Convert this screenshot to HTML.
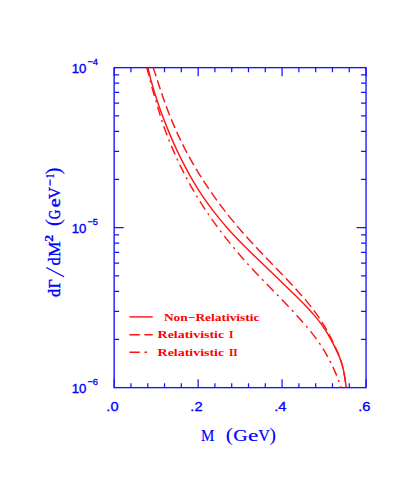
<!DOCTYPE html>
<html><head><meta charset="utf-8"><title>plot</title>
<style>
html,body{margin:0;padding:0;background:#fff;}
body{width:409px;height:477px;position:relative;overflow:hidden;font-family:"Liberation Sans",sans-serif;}
svg text{white-space:pre;}
</style></head><body>
<svg width="409" height="477" viewBox="0 0 409 477" style="position:absolute;left:0;top:0">
<rect x="0" y="0" width="409" height="477" fill="#ffffff"/>
<rect x="114.15" y="67.65" width="251.9" height="320.0" fill="none" stroke="#1414ff" stroke-width="1.35"/>
<path d="M114.15 387.65v-8.5 M114.15 67.65v8.5 M130.94 387.65v-4.5 M130.94 67.65v4.5 M147.74 387.65v-4.5 M147.74 67.65v4.5 M164.53 387.65v-4.5 M164.53 67.65v4.5 M181.32 387.65v-4.5 M181.32 67.65v4.5 M198.12 387.65v-8.5 M198.12 67.65v8.5 M214.91 387.65v-4.5 M214.91 67.65v4.5 M231.70 387.65v-4.5 M231.70 67.65v4.5 M248.50 387.65v-4.5 M248.50 67.65v4.5 M265.29 387.65v-4.5 M265.29 67.65v4.5 M282.08 387.65v-8.5 M282.08 67.65v8.5 M298.88 387.65v-4.5 M298.88 67.65v4.5 M315.67 387.65v-4.5 M315.67 67.65v4.5 M332.46 387.65v-4.5 M332.46 67.65v4.5 M349.26 387.65v-4.5 M349.26 67.65v4.5 M366.05 387.65v-8.5 M366.05 67.65v8.5 M114.15 339.49h5 M366.05 339.49h-5 M114.15 311.31h5 M366.05 311.31h-5 M114.15 291.32h5 M366.05 291.32h-5 M114.15 275.81h5 M366.05 275.81h-5 M114.15 263.15h5 M366.05 263.15h-5 M114.15 252.43h5 M366.05 252.43h-5 M114.15 243.16h5 M366.05 243.16h-5 M114.15 234.97h5 M366.05 234.97h-5 M114.15 227.65h9.5 M366.05 227.65h-9.5 M114.15 179.49h5 M366.05 179.49h-5 M114.15 151.31h5 M366.05 151.31h-5 M114.15 131.32h5 M366.05 131.32h-5 M114.15 115.81h5 M366.05 115.81h-5 M114.15 103.15h5 M366.05 103.15h-5 M114.15 92.43h5 M366.05 92.43h-5 M114.15 83.16h5 M366.05 83.16h-5 M114.15 74.97h5 M366.05 74.97h-5" stroke="#1414ff" stroke-width="1.25" fill="none"/>
<g fill="none" stroke="#ff1414" stroke-width="1.45" stroke-linecap="butt" stroke-linejoin="round">
<path d="M147.93 67.65 L148.15 68.65 L148.38 69.65 L148.60 70.65 L148.83 71.65 L149.07 72.65 L149.31 73.65 L149.56 74.65 L149.80 75.65 L150.06 76.65 L150.31 77.65 L150.57 78.65 L150.84 79.65 L151.10 80.65 L151.38 81.65 L151.65 82.65 L151.93 83.65 L152.21 84.65 L152.50 85.65 L152.79 86.65 L153.08 87.65 L153.38 88.65 L153.68 89.65 L153.98 90.65 L154.29 91.65 L154.59 92.65 L154.91 93.65 L155.22 94.65 L155.54 95.65 L155.86 96.65 L156.19 97.65 L156.52 98.65 L156.85 99.65 L157.18 100.65 L157.51 101.65 L157.85 102.65 L158.19 103.65 L158.54 104.65 L158.89 105.65 L159.23 106.65 L159.59 107.65 L159.94 108.65 L160.30 109.65 L160.65 110.65 L161.02 111.65 L161.38 112.65 L161.74 113.65 L162.11 114.65 L162.48 115.65 L162.86 116.65 L163.23 117.65 L163.61 118.65 L163.99 119.65 L164.37 120.65 L164.76 121.65 L165.14 122.65 L165.54 123.65 L165.93 124.65 L166.32 125.65 L166.72 126.65 L167.12 127.65 L167.53 128.65 L167.93 129.65 L168.34 130.65 L168.75 131.65 L169.17 132.65 L169.59 133.65 L170.01 134.65 L170.43 135.65 L170.86 136.65 L171.28 137.65 L171.72 138.65 L172.15 139.65 L172.59 140.65 L173.03 141.65 L173.47 142.65 L173.92 143.65 L174.37 144.65 L174.82 145.65 L175.28 146.65 L175.74 147.65 L176.20 148.65 L176.66 149.65 L177.13 150.65 L177.60 151.65 L178.08 152.65 L178.55 153.65 L179.04 154.65 L179.52 155.65 L180.01 156.65 L180.50 157.65 L181.00 158.65 L181.50 159.65 L182.00 160.65 L182.51 161.65 L183.02 162.65 L183.53 163.65 L184.05 164.65 L184.58 165.65 L185.11 166.65 L185.64 167.65 L186.18 168.65 L186.72 169.65 L187.25 170.65 L187.79 171.65 L188.33 172.65 L188.88 173.65 L189.43 174.65 L189.99 175.65 L190.55 176.65 L191.12 177.65 L191.69 178.65 L192.26 179.65 L192.85 180.65 L193.43 181.65 L194.03 182.65 L194.63 183.65 L195.23 184.65 L195.84 185.65 L196.46 186.65 L197.08 187.65 L197.70 188.65 L198.34 189.65 L198.98 190.65 L199.62 191.65 L200.27 192.65 L200.93 193.65 L201.59 194.65 L202.26 195.65 L202.94 196.65 L203.62 197.65 L204.31 198.65 L205.00 199.65 L205.70 200.65 L206.40 201.65 L207.12 202.65 L207.83 203.65 L208.56 204.65 L209.29 205.65 L210.02 206.65 L210.77 207.65 L211.52 208.65 L212.27 209.65 L213.04 210.65 L213.81 211.65 L214.58 212.65 L215.36 213.65 L216.15 214.65 L216.95 215.65 L217.75 216.65 L218.56 217.65 L219.38 218.65 L220.20 219.65 L221.03 220.65 L221.86 221.65 L222.71 222.65 L223.56 223.65 L224.41 224.65 L225.28 225.65 L226.15 226.65 L227.02 227.65 L227.91 228.65 L228.80 229.65 L229.71 230.65 L230.63 231.65 L231.55 232.65 L232.49 233.65 L233.43 234.65 L234.37 235.65 L235.32 236.65 L236.28 237.65 L237.24 238.65 L238.21 239.65 L239.18 240.65 L240.16 241.65 L241.14 242.65 L242.13 243.65 L243.12 244.65 L244.12 245.65 L245.11 246.65 L246.12 247.65 L247.12 248.65 L248.13 249.65 L249.14 250.65 L250.16 251.65 L251.18 252.65 L252.20 253.65 L253.22 254.65 L254.25 255.65 L255.29 256.65 L256.32 257.65 L257.36 258.65 L258.41 259.65 L259.45 260.65 L260.49 261.65 L261.54 262.65 L262.58 263.65 L263.62 264.65 L264.67 265.65 L265.71 266.65 L266.75 267.65 L267.80 268.65 L268.84 269.65 L269.88 270.65 L270.92 271.65 L271.96 272.65 L272.99 273.65 L274.03 274.65 L275.06 275.65 L276.09 276.65 L277.13 277.65 L278.15 278.65 L279.18 279.65 L280.21 280.65 L281.23 281.65 L282.26 282.65 L283.28 283.65 L284.29 284.65 L285.33 285.65 L286.37 286.65 L287.42 287.65 L288.46 288.65 L289.50 289.65 L290.53 290.65 L291.56 291.65 L292.60 292.65 L293.62 293.65 L294.65 294.65 L295.67 295.65 L296.70 296.65 L297.71 297.65 L298.71 298.65 L299.72 299.65 L300.71 300.65 L301.71 301.65 L302.70 302.65 L303.69 303.65 L304.68 304.65 L305.63 305.65 L306.56 306.65 L307.48 307.65 L308.40 308.65 L309.31 309.65 L310.21 310.65 L311.10 311.65 L311.99 312.65 L312.86 313.65 L313.72 314.65 L314.57 315.65 L315.42 316.65 L316.24 317.65 L317.06 318.65 L317.86 319.65 L318.65 320.65 L319.42 321.65 L320.18 322.65 L320.93 323.65 L321.66 324.65 L322.37 325.65 L323.06 326.65 L323.74 327.65 L324.41 328.65 L325.06 329.65 L325.70 330.65 L326.33 331.65 L326.95 332.65 L327.56 333.65 L328.15 334.65 L328.74 335.65 L329.31 336.65 L329.88 337.65 L330.44 338.65 L330.98 339.65 L331.52 340.65 L332.05 341.65 L332.58 342.65 L333.10 343.65 L333.61 344.65 L334.12 345.65 L334.63 346.65 L335.12 347.65 L335.62 348.65 L336.10 349.65 L336.58 350.65 L337.05 351.65 L337.51 352.65 L337.96 353.65 L338.40 354.65 L338.82 355.65 L339.24 356.65 L339.65 357.65 L340.04 358.65 L340.42 359.65 L340.78 360.65 L341.13 361.65 L341.47 362.65 L341.79 363.65 L342.09 364.65 L342.37 365.65 L342.64 366.65 L342.89 367.65 L343.13 368.65 L343.36 369.65 L343.57 370.65 L343.77 371.65 L343.96 372.65 L344.14 373.65 L344.32 374.65 L344.48 375.65 L344.64 376.65 L344.80 377.65 L344.95 378.65 L345.10 379.65 L345.25 380.65 L345.40 381.65 L345.55 382.65 L345.71 383.65 L345.86 384.65 L346.02 385.65 L346.19 386.65 L346.36 387.65"/>
<path d="M153.25 67.65 L153.58 68.65 L153.90 69.65 L154.23 70.65 L154.56 71.65 L154.88 72.65 L155.21 73.65 L155.53 74.65 L155.86 75.65 L156.06 76.27 M157.38 80.31 L157.49 80.65 L157.81 81.65 L158.14 82.65 L158.47 83.65 L158.80 84.65 L159.13 85.65 L159.46 86.65 L159.79 87.65 L160.12 88.65 L160.35 89.33 M161.70 93.36 L161.80 93.65 L162.14 94.65 L162.48 95.65 L162.83 96.65 L163.17 97.65 L163.52 98.65 L163.87 99.65 L164.22 100.65 L164.58 101.65 L164.82 102.34 M166.27 106.34 L166.38 106.65 L166.75 107.65 L167.13 108.65 L167.50 109.65 L167.88 110.65 L168.26 111.65 L168.65 112.65 L169.03 113.65 L169.42 114.65 L169.66 115.24 M171.24 119.21 L171.42 119.65 L171.83 120.65 L172.25 121.65 L172.67 122.65 L173.09 123.65 L173.51 124.65 L173.94 125.65 L174.37 126.65 L174.80 127.65 L174.95 128.00 M176.69 131.91 L177.02 132.65 L177.48 133.65 L177.94 134.65 L178.40 135.65 L178.87 136.65 L179.34 137.65 L179.81 138.65 L180.29 139.65 L180.74 140.59 M182.63 144.44 L182.74 144.65 L183.24 145.65 L183.75 146.65 L184.26 147.65 L184.77 148.65 L185.29 149.65 L185.81 150.65 L186.33 151.65 L186.86 152.65 L187.04 152.97 M189.09 156.76 L189.58 157.65 L190.13 158.65 L190.69 159.65 L191.25 160.65 L191.82 161.65 L192.39 162.65 L192.96 163.65 L193.54 164.65 L193.83 165.15 M196.03 168.87 L196.50 169.65 L197.10 170.65 L197.71 171.65 L198.32 172.65 L198.94 173.65 L199.56 174.65 L200.18 175.65 L200.81 176.65 L201.10 177.10 M203.43 180.75 L204.01 181.65 L204.67 182.65 L205.32 183.65 L205.98 184.65 L206.65 185.65 L207.32 186.65 L207.99 187.65 L208.67 188.65 L208.79 188.83 M211.26 192.42 L211.42 192.65 L212.11 193.65 L212.82 194.65 L213.52 195.65 L214.23 196.65 L214.94 197.65 L215.66 198.65 L216.39 199.65 L216.89 200.35 M219.48 203.86 L220.06 204.65 L220.81 205.65 L221.57 206.65 L222.33 207.65 L223.09 208.65 L223.86 209.65 L224.63 210.65 L225.39 211.63 M228.10 215.07 L228.56 215.65 L229.36 216.65 L230.16 217.65 L230.97 218.65 L231.79 219.65 L232.61 220.65 L233.43 221.65 L234.26 222.65 L234.28 222.66 M237.10 226.03 L237.64 226.65 L238.49 227.65 L239.35 228.65 L240.22 229.65 L241.09 230.65 L241.96 231.65 L242.85 232.65 L243.55 233.44 M246.49 236.73 L247.32 237.65 L248.23 238.65 L249.14 239.65 L250.06 240.65 L250.98 241.65 L251.90 242.65 L252.83 243.65 L253.14 243.99 M256.16 247.22 L256.56 247.65 L257.50 248.65 L258.45 249.65 L259.40 250.65 L260.34 251.65 L261.29 252.65 L262.25 253.65 L262.95 254.39 M266.01 257.58 L266.07 257.65 L267.03 258.65 L268.00 259.65 L268.96 260.65 L269.92 261.65 L270.89 262.65 L271.85 263.65 L272.81 264.65 L272.86 264.70 M275.93 267.88 L276.67 268.65 L277.64 269.65 L278.60 270.65 L279.56 271.65 L280.53 272.65 L281.49 273.65 L282.45 274.65 L282.78 275.00 M285.84 278.20 L286.27 278.65 L287.21 279.65 L288.16 280.65 L289.10 281.65 L290.04 282.65 L290.98 283.65 L291.91 284.65 L292.60 285.39 M295.58 288.64 L295.59 288.65 L296.50 289.65 L297.40 290.65 L298.30 291.65 L299.19 292.65 L300.08 293.65 L300.96 294.65 L301.83 295.65 L302.13 295.99 M304.98 299.33 L305.26 299.65 L306.09 300.65 L306.92 301.65 L307.74 302.65 L308.56 303.65 L309.36 304.65 L310.16 305.65 L310.95 306.65 L311.16 306.92 M313.82 310.39 L314.01 310.65 L314.76 311.65 L315.49 312.65 L316.22 313.65 L316.94 314.65 L317.64 315.65 L318.34 316.65 L319.03 317.65 L319.48 318.31 M321.87 321.93 L322.32 322.65 L322.95 323.65 L323.57 324.65 L324.18 325.65 L324.77 326.65 L325.36 327.65 L325.94 328.65 L326.51 329.65 L326.82 330.22 M328.88 334.01 L329.22 334.65 L329.74 335.65 L330.25 336.65 L330.76 337.65 L331.26 338.65 L331.75 339.65 L332.24 340.65 L332.72 341.65 L333.17 342.59 M334.99 346.47 L335.07 346.65 L335.53 347.65 L335.98 348.65 L336.42 349.65 L336.86 350.65 L337.30 351.65 L337.72 352.65 L338.14 353.65 L338.55 354.65 L338.78 355.23 M340.29 359.22 L340.45 359.65 L340.79 360.65 L341.13 361.65 L341.45 362.65 L341.76 363.65 L342.05 364.65 L342.33 365.65 L342.60 366.65 L342.85 367.65 L343.00 368.30 M343.89 372.43 L343.94 372.65 L344.13 373.65 L344.31 374.65 L344.48 375.65 L344.65 376.65 L344.81 377.65 L344.97 378.65 L345.13 379.65 L345.28 380.65 L345.43 381.65 L345.44 381.73 M346.07 385.90 L346.19 386.65 L346.34 387.65"/>
<path d="M146.65 67.65 L146.97 68.65 L147.28 69.65 L147.59 70.65 L147.89 71.65 L148.19 72.65 L148.48 73.65 L148.77 74.65 L149.05 75.65 L149.16 76.07 M150.18 80.46 L150.22 80.65 L150.44 81.65 L150.63 82.51 M151.78 86.88 L152.00 87.65 L152.28 88.65 L152.57 89.65 L152.85 90.65 L153.13 91.65 L153.42 92.65 L153.72 93.65 L154.02 94.65 L154.32 95.65 L154.42 95.98 M155.72 100.31 L155.83 100.65 L156.13 101.65 L156.34 102.33 M157.63 106.66 L157.91 107.65 L158.19 108.65 L158.47 109.65 L158.76 110.65 L159.05 111.65 L159.35 112.65 L159.65 113.65 L159.96 114.65 L160.27 115.65 L160.30 115.76 M161.68 120.07 L161.87 120.65 L162.21 121.65 L162.35 122.07 M163.83 126.36 L163.93 126.65 L164.28 127.65 L164.64 128.65 L165.01 129.65 L165.37 130.65 L165.74 131.65 L166.11 132.65 L166.49 133.65 L166.87 134.65 L167.12 135.29 M168.77 139.52 L168.83 139.65 L169.23 140.65 L169.56 141.49 M171.30 145.70 L171.70 146.65 L172.12 147.65 L172.55 148.65 L172.98 149.65 L173.41 150.65 L173.84 151.65 L174.28 152.65 L174.72 153.65 L175.08 154.47 M176.96 158.63 L176.97 158.65 L177.43 159.65 L177.86 160.56 M179.81 164.69 L180.27 165.65 L180.75 166.65 L181.24 167.65 L181.73 168.65 L182.22 169.65 L182.72 170.65 L183.22 171.65 L183.73 172.65 L184.05 173.29 M186.16 177.36 L186.31 177.65 L186.84 178.65 L187.16 179.25 M189.34 183.29 L189.54 183.65 L190.09 184.65 L190.65 185.65 L191.21 186.65 L191.77 187.65 L192.34 188.65 L192.91 189.65 L193.49 190.65 L194.07 191.65 L194.08 191.67 M196.43 195.64 L196.44 195.65 L197.04 196.65 L197.54 197.47 M199.96 201.40 L200.11 201.65 L200.74 202.65 L201.37 203.65 L202.01 204.65 L202.65 205.65 L203.30 206.65 L203.95 207.65 L204.60 208.65 L205.19 209.55 M207.77 213.40 L207.94 213.65 L208.62 214.65 L208.98 215.18 M211.63 218.99 L212.09 219.65 L212.80 220.65 L213.51 221.65 L214.22 222.65 L214.95 223.65 L215.67 224.65 L216.40 225.65 L217.14 226.65 L217.32 226.89 M220.10 230.62 L220.12 230.65 L220.88 231.65 L221.41 232.35 M224.26 236.04 L224.74 236.65 L225.52 237.65 L226.31 238.65 L227.11 239.65 L227.90 240.65 L228.71 241.65 L229.52 242.65 L230.33 243.65 L230.36 243.69 M233.33 247.30 L233.62 247.65 L234.46 248.65 L234.73 248.97 M237.76 252.54 L237.85 252.65 L238.70 253.65 L239.57 254.65 L240.43 255.65 L241.31 256.65 L242.18 257.65 L243.06 258.65 L243.95 259.65 L244.22 259.95 M247.35 263.45 L247.53 263.65 L248.44 264.65 L248.82 265.07 M252.01 268.53 L252.12 268.65 L253.05 269.65 L253.98 270.65 L254.92 271.65 L255.86 272.65 L256.81 273.65 L257.76 274.65 L258.71 275.65 L258.78 275.72 M262.04 279.12 L262.56 279.65 L263.52 280.65 L263.57 280.70 M266.85 284.08 L267.41 284.65 L268.38 285.65 L269.36 286.65 L270.34 287.65 L271.31 288.65 L272.29 289.65 L273.27 290.65 L273.76 291.16 M277.06 294.53 L277.17 294.65 L278.14 295.65 L278.59 296.11 M281.87 299.50 L282.01 299.65 L282.98 300.65 L283.94 301.65 L284.90 302.65 L285.85 303.65 L286.80 304.65 L287.75 305.65 L288.69 306.64 M291.91 310.08 L292.44 310.65 L293.36 311.65 L293.40 311.68 M296.57 315.15 L297.02 315.65 L297.92 316.65 L298.82 317.65 L299.71 318.65 L300.60 319.65 L301.48 320.65 L302.36 321.65 L303.10 322.51 M306.15 326.07 L306.64 326.65 L307.48 327.65 L307.55 327.74 M310.52 331.36 L310.75 331.65 L311.55 332.65 L312.34 333.65 L313.12 334.65 L313.89 335.65 L314.66 336.65 L315.41 337.65 L316.15 338.65 L316.48 339.09 M319.17 342.87 L319.70 343.65 L320.38 344.65 L320.38 344.66 M322.90 348.54 L322.97 348.65 L323.58 349.65 L324.19 350.65 L324.79 351.65 L325.38 352.65 L325.95 353.65 L326.52 354.65 L327.08 355.65 L327.63 356.65 L327.75 356.87 M329.89 360.93 L330.26 361.65 L330.76 362.65 L330.85 362.83 M332.85 366.95 L333.18 367.65 L333.65 368.65 L334.10 369.65 L334.56 370.65 L335.00 371.65 L335.43 372.65 L335.86 373.65 L336.28 374.65 L336.69 375.65 L336.71 375.69 M338.34 379.93 L338.60 380.65 L338.96 381.65 L339.05 381.92 M340.44 386.23 L340.56 386.65 L340.85 387.65"/>
<path d="M129.4 316.9H152.7"/>
<path d="M129.4 334.65H139.8M144.4 334.65H152.7"/>
<path d="M129.4 352.25H139.8M144.5 352.25H147.0"/>
</g>
<g fill="#0000ff" stroke="#0000ff" stroke-width="0.35" font-family="Liberation Sans, sans-serif">
<text x="71.7" y="72.5" font-size="13.2">10</text>
<text x="87.4" y="64.6" font-size="9.3">−4</text>
<text x="71.7" y="232.5" font-size="13.2">10</text>
<text x="87.4" y="224.60000000000002" font-size="9.3">−5</text>
<text x="71.7" y="392.5" font-size="13.2">10</text>
<text x="87.4" y="384.6" font-size="9.3">−6</text>
<text x="106.35" y="411.1" font-size="13" textLength="12.2" lengthAdjust="spacingAndGlyphs">.0</text>
<text x="190.32" y="411.1" font-size="13" textLength="12.2" lengthAdjust="spacingAndGlyphs">.2</text>
<text x="274.28" y="411.1" font-size="13" textLength="12.2" lengthAdjust="spacingAndGlyphs">.4</text>
<text x="358.25" y="411.1" font-size="13" textLength="12.2" lengthAdjust="spacingAndGlyphs">.6</text>
</g>
<g fill="#0000ff" font-family="Liberation Serif, serif">
<g stroke="#0000ff" stroke-width="0.2" font-size="17">
<text x="201.1" y="440.9" textLength="13.35" lengthAdjust="spacingAndGlyphs">M</text>
<text x="225.8" y="440.8" font-size="18.5" stroke-width="0" textLength="7.2" lengthAdjust="spacingAndGlyphs">(</text>
<text x="233.2" y="440.9" textLength="14.5" lengthAdjust="spacingAndGlyphs">G</text>
<text x="247.9" y="440.9" textLength="10.3" lengthAdjust="spacingAndGlyphs">e</text>
<text x="258.2" y="440.9" textLength="11.65" lengthAdjust="spacingAndGlyphs">V</text>
<text x="269.3" y="440.8" font-size="18.5" stroke-width="0" textLength="6.8" lengthAdjust="spacingAndGlyphs">)</text>
</g>
<g transform="translate(60.2 297) rotate(-90)" stroke="#0000ff" stroke-width="0.4" font-size="16.5">
<text x="0" y="0">d</text>
<text x="8.7" y="0" textLength="9.0" lengthAdjust="spacingAndGlyphs">Γ</text>
<path d="M20.2 3.9L29.6 -13.9" stroke-width="1.15" fill="none"/>
<text x="31.6" y="0">d</text>
<text x="40.3" y="0" textLength="15.3" lengthAdjust="spacingAndGlyphs">M</text>
<text x="55.2" y="-6.8" font-size="12.5" font-weight="bold" stroke-width="0.2" textLength="6.9" lengthAdjust="spacingAndGlyphs">2</text>
<text x="71.0" y="-0.3" font-size="20.5" stroke-width="0.1">(</text>
<text x="77.8" y="0" textLength="9.6" lengthAdjust="spacingAndGlyphs">G</text>
<text x="89.7" y="0" textLength="8.9" lengthAdjust="spacingAndGlyphs">e</text>
<text x="97.9" y="0">V</text>
<path d="M111.4 -10.1H117.5" stroke-width="1.25" fill="none"/>
<text x="118.5" y="-6.0" font-size="12.5" font-weight="bold" stroke="none" textLength="4.9" lengthAdjust="spacingAndGlyphs">1</text>
<text x="122.4" y="-0.3" font-size="20.5" stroke-width="0.1">)</text>
</g></g>
<g fill="#ff0000" font-family="Liberation Serif, serif" font-weight="bold" font-size="11.3">
<text x="163.9" y="320.7" textLength="95.6" lengthAdjust="spacingAndGlyphs">Non−Relativistic</text>
<text x="157.6" y="337.6" textLength="66.6" lengthAdjust="spacingAndGlyphs">Relativistic</text>
<text x="229.0" y="337.6">I</text>
<text x="157.6" y="355.5" textLength="66.6" lengthAdjust="spacingAndGlyphs">Relativistic</text>
<text x="228.9" y="355.5">II</text>
</g>
</svg>
</body></html>
